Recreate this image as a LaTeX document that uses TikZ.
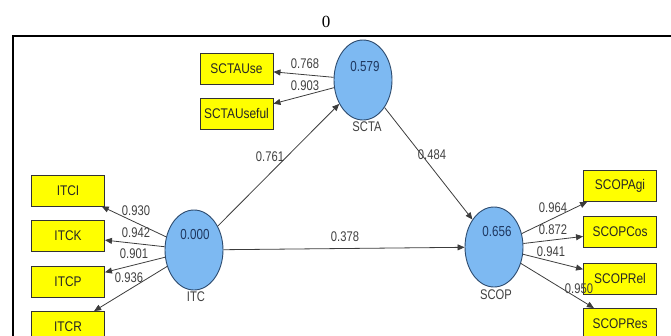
\documentclass[tikz,border=0pt]{standalone}
\usepackage{fontspec}
\setmainfont{Liberation Serif}
\newfontfamily\plsfont[FakeStretch=0.8]{Liberation Sans}
\newfontfamily\boxfont[FakeStretch=0.85]{Liberation Sans}
\usetikzlibrary{shapes.geometric,arrows.meta}
\definecolor{lvfill}{RGB}{125,185,242}
\definecolor{lvedge}{RGB}{45,75,110}
\definecolor{lvtext}{RGB}{30,55,95}
\definecolor{pathline}{RGB}{60,60,60}
\definecolor{indfill}{RGB}{255,255,0}
\tikzset{
  latent/.style={ellipse, draw=lvedge, line width=0.9pt, fill=lvfill,
    minimum width=58pt, minimum height=80pt, inner sep=0pt},
  indicator/.style={rectangle, draw=black!80, line width=0.9pt, fill=indfill,
    minimum width=73pt, minimum height=31pt, inner sep=0pt,
    font=\boxfont\fontsize{14}{14}\selectfont, text=black!85},
  coef/.style={font=\plsfont\fontsize{14}{14}\selectfont, text=black!75, inner sep=0pt},
  rsq/.style={font=\plsfont\fontsize{14.5}{14.5}\selectfont, text=lvtext, inner sep=0pt},
  lvname/.style={font=\plsfont\fontsize{14}{14}\selectfont, text=black!75, inner sep=0pt},
  arr/.style={draw=pathline, line width=0.8pt, -{Triangle[length=7pt,width=6pt]}},
}
\begin{document}
\begin{tikzpicture}[x=1pt,y=-1pt]
\useasboundingbox (0,0) rectangle (671,335);
% heading and frame
\node (title) at (326,22) {\fontsize{17}{17}\selectfont 0};
\coordinate (fbl) at (13,340);
\coordinate (ftl) at (13,36);
\coordinate (ftr) at (676,36);
\draw[line width=2pt] (fbl) -- (ftl) -- (ftr);

% latent variables
\node[latent] (scta) at (363,80) {};
\node[latent] (itc)  at (194,250) {};
\node[latent] (scop) at (494,247) {};
\node[rsq] (sctaR2) at (365,67) {0.579};
\node[rsq] (itcR2)  at (195,235) {0.000};
\node[rsq] (scopR2) at (497,232) {0.656};
\node[lvname] (sctaName) at (367,127) {SCTA};
\node[lvname] (itcName)  at (196,297) {ITC};
\node[lvname] (scopName) at (496,295) {SCOP};

% indicators
\node[indicator] (sctause)    at (236.5,68.5)  {SCTAUse};
\node[indicator] (sctauseful) at (236.5,113.5) {SCTAUseful};
\node[indicator] (itci) at (68,190.5) {ITCI};
\node[indicator] (itck) at (68,236)   {ITCK};
\node[indicator] (itcp) at (68,281.5) {ITCP};
\node[indicator] (itcr) at (68,327)   {ITCR};
\node[indicator] (agi) at (620,186)   {SCOPAgi};
\node[indicator] (cos) at (620,232)   {SCOPCos};
\node[indicator] (rel) at (620,278.5) {SCOPRel};
\node[indicator] (res) at (620,324)   {SCOPRes};

% structural paths
\draw[arr] (itc) -- (scta);
\draw[arr] (scta) -- (scop);
\draw[arr] (itc) -- (scop);
\node[coef] (c761) at (270,157) {0.761};
\node[coef] (c484) at (432,155) {0.484};
\node[coef] (c378) at (345,237) {0.378};

% outer loadings
\draw[arr] (scta) -- (sctause);
\draw[arr] (scta) -- (sctauseful);
\node[coef] (l768) at (305,64) {0.768};
\node[coef] (l903) at (305,86) {0.903};

\draw[arr] (itc) -- (itci);
\draw[arr] (itc) -- (itck);
\draw[arr] (itc) -- (itcp);
\draw[arr] (itc) -- (itcr);
\node[coef] (l930) at (136,211) {0.930};
\node[coef] (l942) at (136,233) {0.942};
\node[coef] (l901) at (134,254) {0.901};
\node[coef] (l936) at (129,278) {0.936};

\draw[arr] (scop) -- (agi);
\draw[arr] (scop) -- (cos);
\draw[arr] (scop) -- (rel);
\draw[arr] (scop) -- (res);
\node[coef] (l964) at (553,208) {0.964};
\node[coef] (l872) at (553,230) {0.872};
\node[coef] (l941) at (551,252) {0.941};
\node[coef] (l950) at (579,289) {0.950};
\end{tikzpicture}
\end{document}
